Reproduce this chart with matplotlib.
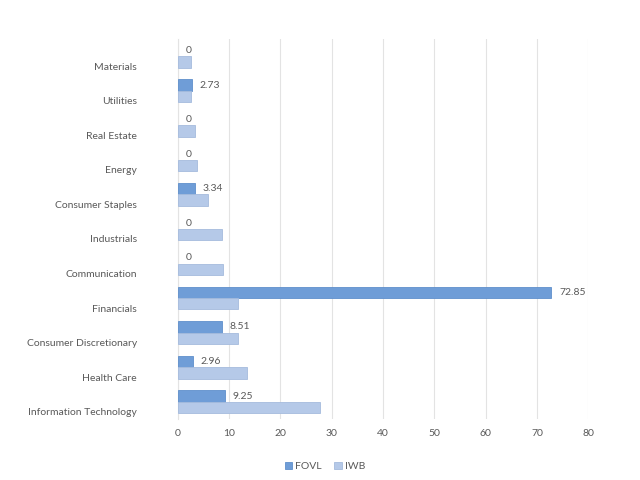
import matplotlib
matplotlib.use("Agg")
import matplotlib.pyplot as plt
import numpy as np

categories = ["Information Technology", "Health Care", "Consumer Discretionary", "Financials",
              "Communication", "Industrials", "Consumer Staples", "Energy", "Real Estate",
              "Utilities", "Materials"]
fovl = [9.25, 2.96, 8.51, 72.85, 0, 0, 3.34, 0, 0, 2.73, 0]
iwb = [27.7, 13.4, 11.7, 11.7, 8.8, 8.6, 5.8, 3.7, 3.3, 2.6, 2.5]
fovl_labels = ["9.25", "2.96", "8.51", "72.85", "0", "0", "3.34", "0", "0", "2.73", "0"]

plt.rcParams['font.family'] = ['Lato', 'DejaVu Sans']
fig = plt.figure(figsize=(6.4, 4.8), dpi=100)
ax = fig.add_axes([0.278, 0.127, 0.641, 0.792])

y = np.arange(len(categories))
h = 0.33
c_fovl = "#6f9dd7"
c_iwb = "#b5c9e8"
lw1 = [0.6 if v > 0 else 0 for v in fovl]
b1 = ax.barh(y + h / 2, fovl, height=h, color=c_fovl, edgecolor="#5f8fcb", linewidth=lw1, label="FOVL", zorder=3)
b2 = ax.barh(y - h / 2, iwb, height=h, color=c_iwb, edgecolor="#a5bbdd", linewidth=0.6, label="IWB", zorder=3)

txt = "#595959"
for yi, v, lab in zip(y, fovl, fovl_labels):
    ax.annotate(lab, (v, yi + h / 2), xytext=(5.5, 0), textcoords="offset points",
                va="center", ha="left", fontsize=7.5, color=txt)

ax.set_xlim(0, 80)
ax.set_xticks(np.arange(0, 81, 10))
ax.set_ylim(-0.5, len(categories) - 0.5)
ax.set_yticks(y - 0.29)
ax.set_yticklabels(categories)
ax.tick_params(axis="both", length=0, labelsize=7.5, colors=txt)
ax.tick_params(axis="y", pad=29.5)
ax.tick_params(axis="x", pad=7)
ax.grid(axis="x", color="#e3e3e3", linewidth=0.8, zorder=0)
for s in ["top", "right", "bottom"]:
    ax.spines[s].set_visible(False)
ax.spines["left"].set_color("#e3e3e3")
ax.spines["left"].set_linewidth(0.8)

fig.legend(handles=[b1, b2], labels=["FOVL", "IWB"], loc="center", bbox_to_anchor=(0.508, 0.028),
           ncol=2, frameon=False, fontsize=7.5, handlelength=0.7, handleheight=0.7,
           handletextpad=0.3, columnspacing=1.2, labelcolor=txt)

fig.savefig("out.png", dpi=100)
